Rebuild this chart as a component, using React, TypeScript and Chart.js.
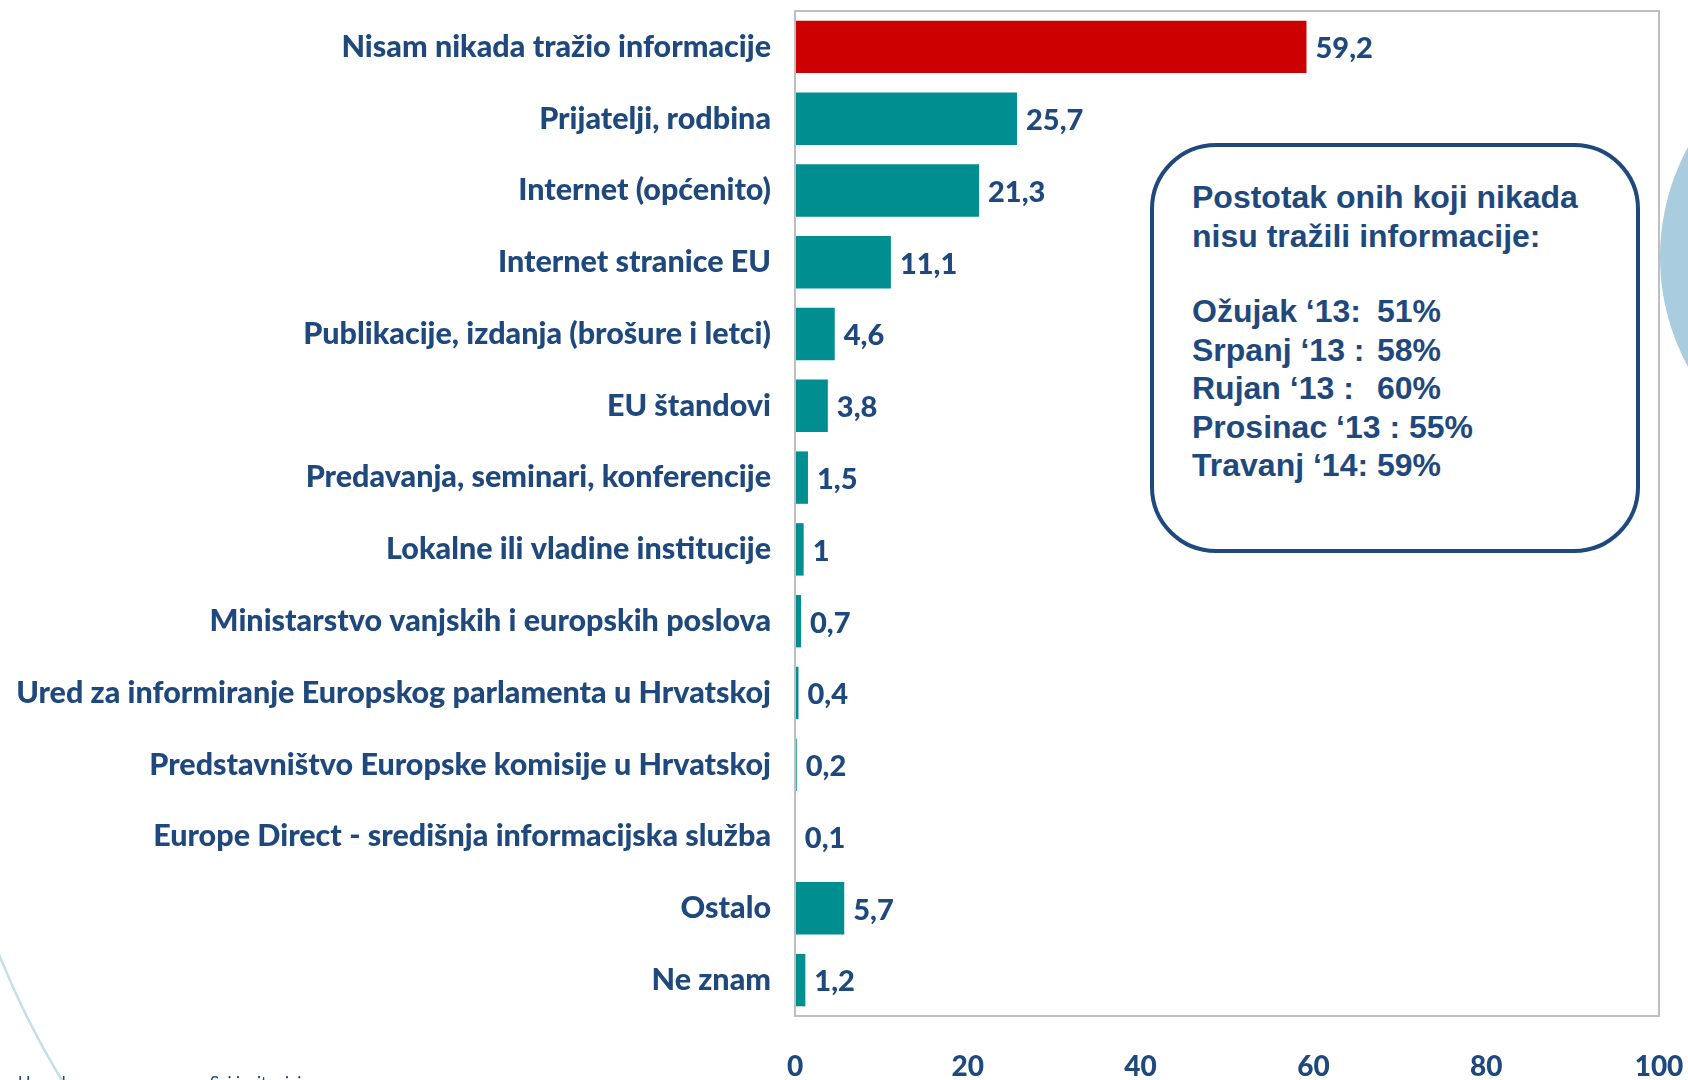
import React, { useEffect, useRef } from "react";
import { Chart, registerables } from "chart.js";

Chart.register(...registerables);

const categories: string[] = [
  "Nisam nikada tražio informacije",
  "Prijatelji, rodbina",
  "Internet (općenito)",
  "Internet stranice EU",
  "Publikacije, izdanja (brošure i letci)",
  "EU štandovi",
  "Predavanja, seminari, konferencije",
  "Lokalne ili vladine institucije",
  "Ministarstvo vanjskih i europskih poslova",
  "Ured za informiranje Europskog parlamenta u Hrvatskoj",
  "Predstavništvo Europske komisije u Hrvatskoj",
  "Europe Direct - središnja informacijska služba",
  "Ostalo",
  "Ne znam",
];

const values: number[] = [59.2, 25.7, 21.3, 11.1, 4.6, 3.8, 1.5, 1, 0.7, 0.4, 0.2, 0.1, 5.7, 1.2];

const barColors: string[] = [
  "#CC0000", "#008E91", "#008E91", "#008E91", "#008E91", "#008E91", "#008E91",
  "#008E91", "#008E91", "#008E91", "#008E91", "#008E91", "#008E91", "#008E91",
];

const xTicks: number[] = [0, 20, 40, 60, 80, 100];

const boxTitle: string[] = ["Postotak onih koji nikada", "nisu tražili informacije:"];
const boxPeriods: string[] = ["Ožujak \u201813:", "Srpanj \u201813 :", "Rujan \u201813 :", "Prosinac \u201813 :", "Travanj \u201814:"];
const boxPercents: string[] = ["51%", "58%", "60%", "55%", "59%"];
const boxAligned: boolean[] = [true, true, true, false, false];

const NAVY = "#1F497D";
const LABEL_FONT = "Lato";
const LABEL_WEIGHT = "900";

const borderPlugin = {
  id: "plotBorder",
  afterDraw(chart: any) {
    const { ctx, chartArea } = chart;
    ctx.save();
    ctx.strokeStyle = "#BFBFBF";
    ctx.lineWidth = 2;
    ctx.strokeRect(chartArea.left, chartArea.top, chartArea.right - chartArea.left, chartArea.bottom - chartArea.top);
    ctx.restore();
  },
};

const valueLabelPlugin = {
  id: "valueLabels",
  afterDatasetsDraw(chart: any) {
    const { ctx } = chart;
    const meta = chart.getDatasetMeta(0);
    ctx.save();
    ctx.fillStyle = NAVY;
    ctx.font = `${LABEL_WEIGHT} 29px ${LABEL_FONT}`;
    ctx.textAlign = "left";
    ctx.textBaseline = "middle";
    meta.data.forEach((el: any, i: number) => {
      const v = values[i];
      const txt = String(v).replace(".", ",");
      ctx.fillText(txt, el.x + 9, el.y + 2);
    });
    ctx.restore();
  },
};

export default function App() {
  const canvasRef = useRef<HTMLCanvasElement | null>(null);

  useEffect(() => {
    if (!canvasRef.current) return;
    const chart = new Chart(canvasRef.current, {
      type: "bar",
      data: {
        labels: categories,
        datasets: [
          {
            data: values,
            backgroundColor: barColors,
            borderWidth: 0,
            categoryPercentage: 0.73,
            barPercentage: 1,
          },
        ],
      },
      options: {
        indexAxis: "y",
        animation: false,
        responsive: false,
        maintainAspectRatio: false,
        layout: { padding: { top: 11, right: 29, left: 0, bottom: 0 } },
        plugins: {
          legend: { display: false },
          tooltip: { enabled: false },
        },
        scales: {
          x: {
            min: 0,
            max: 100,
            afterBuildTicks: (scale: any) => {
              scale.ticks = xTicks.map((v) => ({ value: v }));
            },
            grid: { display: false, drawTicks: false },
            border: { display: false },
            ticks: {
              color: NAVY,
              font: { family: LABEL_FONT, weight: LABEL_WEIGHT, size: 28 },
              padding: 34,
              maxRotation: 0,
            },
            afterFit: (scale: any) => {
              scale.height = 64;
              scale.paddingLeft = 0;
              scale.paddingRight = 0;
            },
          },
          y: {
            grid: { display: false, drawTicks: false },
            border: { display: false },
            ticks: {
              color: NAVY,
              font: { family: LABEL_FONT, weight: LABEL_WEIGHT, size: 30.5 },
              padding: 24,
              crossAlign: "near",
              autoSkip: false,
            },
            afterFit: (scale: any) => {
              scale.width = 795;
              scale.paddingTop = 0;
              scale.paddingBottom = 0;
            },
          },
        },
      },
      plugins: [borderPlugin, valueLabelPlugin],
    } as any);
    return () => chart.destroy();
  }, []);

  return (
    <div style={{ position: "fixed", left: 0, top: 0, width: 1688, height: 1080, overflow: "hidden", background: "#fff" }}>
      <div
        style={{
          position: "absolute",
          left: 1660,
          top: 27,
          width: 460,
          height: 460,
          borderRadius: "50%",
          background: "#A9CCDE",
        }}
      />
      <svg style={{ position: "absolute", left: 0, top: 0 }} width={1688} height={1080}>
        <path d="M -2 952 Q 26 1022 64 1084" stroke="#C5DFEA" strokeWidth={2.5} fill="none" />
      </svg>
      <canvas ref={canvasRef} width={1688} height={1080} style={{ position: "absolute", left: 0, top: 0 }} />
      <div
        style={{
          position: "absolute",
          left: 1150,
          top: 143,
          width: 490,
          height: 410,
          boxSizing: "border-box",
          border: `4px solid ${NAVY}`,
          borderRadius: 66,
          background: "#fff",
          fontFamily: "'Liberation Sans', Arial, sans-serif",
          fontWeight: "bold",
          fontSize: 32,
          color: NAVY,
          paddingLeft: 38,
          paddingTop: 31,
          lineHeight: "38.5px",
          whiteSpace: "pre",
        }}
      >
        {boxTitle.map((t, i) => (
          <div key={"t" + i} style={{ lineHeight: "39px" }}>{t}</div>
        ))}
        <div style={{ height: 36 }} />
        {boxPeriods.map((p, i) => (
          <div key={"l" + i}>
            {boxAligned[i] ? (
              <span style={{ display: "inline-block", width: 185 }}>{p}</span>
            ) : (
              <span>{p + " "}</span>
            )}
            <span>{boxPercents[i]}</span>
          </div>
        ))}
      </div>
      <div
        style={{
          position: "absolute",
          left: 18,
          top: 1072,
          fontFamily: "Lato, sans-serif",
          fontSize: 17,
          color: NAVY,
          whiteSpace: "pre",
        }}
      >
        Uzorak:
      </div>
      <div
        style={{
          position: "absolute",
          left: 210,
          top: 1072,
          fontFamily: "Lato, sans-serif",
          fontSize: 17,
          color: NAVY,
          whiteSpace: "pre",
        }}
      >
        Svi ispitanici
      </div>
    </div>
  );
}
